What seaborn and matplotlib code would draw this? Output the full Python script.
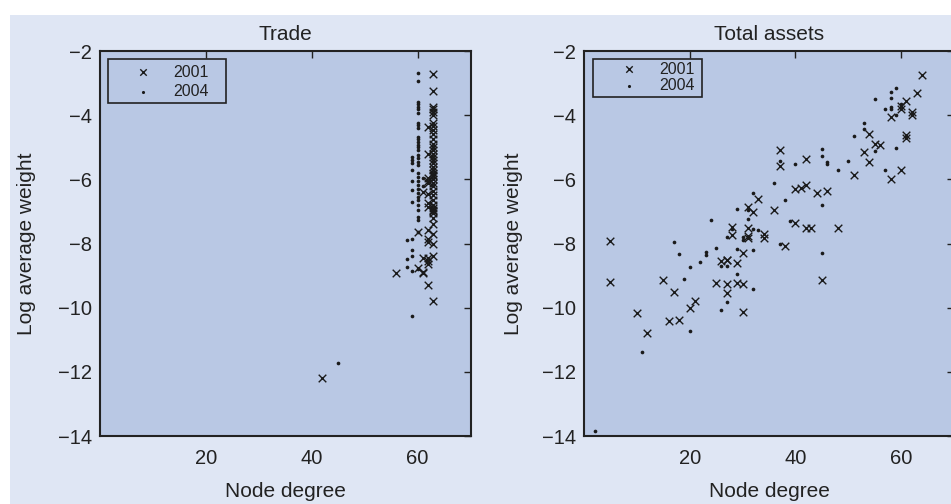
import matplotlib
matplotlib.use("Agg")
import matplotlib.pyplot as plt
import seaborn as sns
from matplotlib.patches import Rectangle

# ---------------- data ----------------
trade_2001_deg = ([42, 56, 60, 60, 61, 61, 61, 61] + [62] * 15 + [63] * 40)
trade_2001_val = ([-12.18, -8.93, -7.64, -8.77, -6.39, -8.44, -8.88, -8.93]
                  + [-4.37, -5.22, -5.95, -6.05, -6.1, -6.45, -6.75, -6.85, -7.58,
                     -7.85, -7.95, -8.45, -8.55, -8.65, -9.3]
                  + [-2.71, -3.26, -3.75, -3.82, -3.9, -4.0, -4.25, -4.35, -4.45, -4.6,
                     -4.75, -4.9, -5.0, -5.1, -5.2, -5.3, -5.4, -5.5, -5.6, -5.7,
                     -5.8, -5.85, -5.9, -6.0, -6.1, -6.2, -6.35, -6.5, -6.65, -6.8,
                     -6.9, -6.95, -7.0, -7.05, -7.2, -7.4, -7.7, -8.0, -8.4, -9.79])

trade_2004_deg = ([45] + [58] * 3 + [59] * 12 + [60] * 34 + [61] * 2)
trade_2004_val = ([-11.72]
                  + [-7.9, -8.47, -8.72]
                  + [-10.25, -8.2, -8.4, -8.85, -7.85, -6.32, -6.7, -5.3, -5.4, -5.5,
                     -5.7, -6.05]
                  + [-2.68, -2.92, -3.58, -3.66, -3.74, -3.82, -3.93, -4.23, -4.32, -4.4,
                     -4.67, -4.75, -4.84, -4.92, -5.0, -5.08, -5.24, -5.33, -5.45, -5.55,
                     -5.8, -5.92, -6.05, -6.18, -6.3, -6.42, -6.55, -6.64, -6.8, -6.95,
                     -7.17, -7.27, -7.64, -8.8]
                  + [-5.95, -6.2])

assets_2001_deg = [5, 5, 10, 12, 15, 16, 17, 18, 20, 21, 25, 26, 27, 27, 27, 27, 28, 28,
                   29, 29, 30, 30, 30, 31, 31, 31, 31, 32, 33, 34, 34, 36, 37, 37, 38,
                   40, 40, 41, 42, 42, 42, 43, 44, 45, 46, 48, 51, 53, 54, 54, 55, 56,
                   58, 58, 60, 60, 60, 61, 61, 61, 62, 62, 63, 64]
assets_2001_val = [-7.92, -9.2, -10.16, -10.78, -9.13, -10.42, -9.52, -10.37, -10.0, -9.8,
                   -9.23, -8.56, -8.5, -9.25, -9.54, -8.52, -7.48, -7.75, -8.61, -9.24,
                   -9.25, -10.13, -8.29, -6.86, -7.53, -7.82, -7.77, -7.03, -6.61, -7.69,
                   -7.84, -6.95, -5.1, -5.57, -8.08, -6.29, -7.35, -6.26, -5.36, -6.18,
                   -7.51, -7.51, -6.43, -9.13, -6.36, -7.51, -5.87, -5.16, -4.6, -5.47,
                   -4.89, -4.93, -4.05, -6.0, -5.7, -3.7, -3.82, -3.57, -4.63, -4.71,
                   -3.9, -4.0, -3.31, -2.76]

assets_2004_deg = [2, 11, 17, 18, 19, 20, 20, 22, 23, 23, 24, 25, 26, 26, 27, 27, 27, 28,
                   29, 29, 29, 30, 30, 31, 31, 32, 32, 32, 32, 33, 36, 37, 37, 38, 39,
                   40, 45, 45, 45, 45, 46, 46, 48, 50, 51, 53, 53, 55, 55, 57, 57, 58,
                   58, 58, 58, 59, 59, 59, 60, 61, 62]
assets_2004_val = [-13.84, -11.37, -7.95, -8.32, -9.12, -8.72, -10.74, -8.58, -8.28, -8.36,
                   -7.27, -8.14, -10.06, -8.71, -7.81, -8.71, -9.82, -7.54, -6.91, -8.16,
                   -8.96, -7.88, -7.81, -7.23, -6.96, -6.44, -7.56, -8.19, -9.42, -7.58,
                   -6.12, -5.43, -8.01, -6.63, -7.29, -5.53, -5.06, -5.26, -6.81, -8.31,
                   -5.45, -5.51, -5.71, -5.44, -4.65, -4.25, -4.43, -3.51, -5.11, -3.8,
                   -5.72, -3.28, -3.46, -3.74, -3.81, -3.16, -4.0, -5.02, -3.64, -4.68,
                   -3.95]

panel_titles = ["Trade", "Total assets"]
series_labels = ["2001", "2004"]
x_ticks = [20, 40, 60]
y_ticks = [-2, -4, -6, -8, -10, -12, -14]
x_label = "Node degree"
y_label = "Log average weight"

# ---------------- style ----------------
sns.set_style("white")
plt.rcParams["font.family"] = ["Liberation Sans", "DejaVu Sans"]
plt.rcParams["axes.unicode_minus"] = True

FIG_BG = "#dfe6f4"
AX_BG = "#b9c8e4"
INK = "#222222"

W, H = 951, 504
fig = plt.figure(figsize=(W / 100, H / 100), dpi=100, facecolor="white")
fig.patches.append(Rectangle((10 / W, 0), 1 - 10 / W, 1 - 15 / H,
                             transform=fig.transFigure, facecolor=FIG_BG,
                             edgecolor="none", zorder=-10))

ax_top = 51
ax_bot = 436
ax_h = ax_bot - ax_top
axes_px = [(100, 370.5), (584, 370)]

data = [
    (trade_2001_deg, trade_2001_val, trade_2004_deg, trade_2004_val),
    (assets_2001_deg, assets_2001_val, assets_2004_deg, assets_2004_val),
]

# legend geometry in pixels: frame box, handle start x, first row top y, row spacing
legend_px = [
    dict(box=(108, 59, 226, 103), hx=127, top=64.5, spacing=0.3),
    dict(box=(593, 59, 702, 97), hx=613, top=61.5, spacing=0.11),
]
ylabel_right = [36, 523]

for i, (x0, w) in enumerate(axes_px):
    ax = fig.add_axes([x0 / W, (H - ax_bot) / H, w / W, ax_h / H])
    ax.set_facecolor(AX_BG)

    def to_ax(px, py, x0=x0, w=w):
        return (px - x0) / w, 1 - (py - ax_top) / ax_h

    d01, v01, d04, v04 = data[i]
    sns.scatterplot(x=d01, y=v01, ax=ax, marker="x", color="#1a1a1a", s=30,
                    linewidth=1.0, label=series_labels[0], zorder=3)
    sns.scatterplot(x=d04, y=v04, ax=ax, marker="o", color="#1a1a1a", s=7,
                    linewidth=0, label=series_labels[1], zorder=3)
    ax.set_xlim(0, 70)
    ax.set_ylim(-14, -2)
    ax.set_xticks(x_ticks)
    ax.set_yticks(y_ticks)
    ax.tick_params(axis="both", direction="in", length=5, width=1,
                   top=True, right=True, labelsize=14.5, colors=INK)
    ax.tick_params(axis="x", pad=9)
    ax.tick_params(axis="y", pad=6)
    for sp in ax.spines.values():
        sp.set_visible(True)
        sp.set_color(INK)
        sp.set_linewidth(1.5)
    ax.set_title(panel_titles[i], fontsize=15, pad=8, color=INK)
    ax.set_xlabel(x_label, fontsize=15, color=INK)
    ax.set_ylabel(y_label, fontsize=15, color=INK)
    ax.xaxis.set_label_coords(0.5, (ax_bot - 482) / ax_h)
    ax.yaxis.set_label_coords((ylabel_right[i] - x0) / w, 0.5)

    lp = legend_px[i]
    bx0, by0, bx1, by1 = lp["box"]
    fx, fy = to_ax(bx0, by1)
    fx1, fy1 = to_ax(bx1, by0)
    ax.add_patch(Rectangle((fx, fy), fx1 - fx, fy1 - fy, transform=ax.transAxes,
                           facecolor=AX_BG, edgecolor=INK, linewidth=1.2, zorder=4,
                           clip_on=False))
    leg = ax.legend(loc="upper left", bbox_to_anchor=to_ax(lp["hx"], lp["top"]),
                    borderaxespad=0, borderpad=0, frameon=False, fontsize=11.5,
                    labelspacing=lp["spacing"], handlelength=2.0,
                    handletextpad=0.875, markerscale=0.85)
    leg.set_zorder(5)
    for t in leg.get_texts():
        t.set_color(INK)

fig.savefig("out.png", dpi=100, facecolor=fig.get_facecolor())
